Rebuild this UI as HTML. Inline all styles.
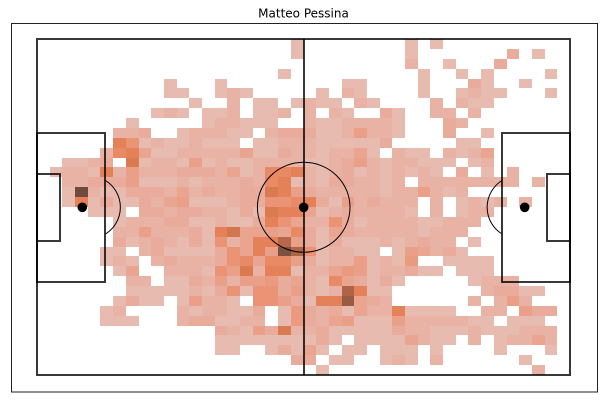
<!DOCTYPE html>
<html lang="en">
<head>
<meta charset="utf-8">
<title>Matteo Pessina</title>
<style>
html,body{margin:0;padding:0;background:#fff;width:603px;height:403px;overflow:hidden}
svg{display:block}
</style>
</head>
<body>
<svg id="chart" width="603" height="403" viewBox="0 0 603 403" xmlns="http://www.w3.org/2000/svg">
  <rect x="0" y="0" width="603" height="403" fill="#ffffff"/>
  <text x="303.5" y="17.3" text-anchor="middle" font-family="'DejaVu Sans',sans-serif" font-size="12" fill="#000">Matteo Pessina</text>
  <rect x="11.5" y="23.5" width="586" height="368.5" fill="none" stroke="#222" stroke-width="1"/>
  <g id="heat" shape-rendering="crispEdges"></g>
  <g fill="none" stroke="#000" stroke-opacity="0.78" stroke-width="2">
    <rect x="37" y="39" width="533" height="336"/>
    <line x1="304" y1="39" x2="304" y2="375"/>
    <rect x="37" y="133" width="68" height="149"/>
    <rect x="502" y="133" width="68" height="149"/>
    <rect x="37" y="174" width="23" height="67"/>
    <rect x="547" y="174" width="23" height="67"/>
  </g>
  <g fill="none" stroke="#000" stroke-width="1">
    <ellipse cx="303.7" cy="207.3" rx="46.3" ry="45"/>
    <path d="M105.5 180.5 A31.5 31.5 0 0 1 105.5 234"/>
    <path d="M502 180.5 A31.5 31.5 0 0 0 502 234"/>
  </g>
  <circle cx="303.7" cy="207.3" r="4.8" fill="#000"/>
  <circle cx="82.3" cy="207.3" r="4.8" fill="#000"/>
  <circle cx="524.7" cy="207.3" r="4.8" fill="#000"/>
</svg>
<script>
const touchRows = [
[0,0,0,0,0,0,0,0,0,0, 0,0,0,0,0,0,0,0,0,0, 1,0,0,0,0,0,0,0,0,1, 0,1,0,0,0,0,0,0,0,0,0,0],
[0,0,0,0,0,0,0,0,0,0, 0,0,0,0,0,0,0,0,0,0, 1,0,0,0,0,0,0,0,0,1, 0,0,0,0,0,0,0,2,0,1,0,0],
[0,0,0,0,0,0,0,0,0,0, 0,0,0,0,0,0,0,0,0,0, 0,0,0,0,0,0,0,0,0,1.5, 0,0,1,0,0,0,2,0,0,0,0,0],
[0,0,0,0,0,0,0,0,0,0, 0,0,0,0,0,0,0,0,0,1, 0,0,0,0,0,0,0,0,0,0, 1,0,0,1,0,1,0,0,0,0,1,0],
[0,0,0,0,0,0,0,0,0,0, 1,0,0,0,1,0,0,0,0,0, 0,0,0,0,1,1,0,0,0,0, 1,0,0,0,2,1,0,0,1,0,0,0],
[0,0,0,0,0,0,0,0,0,0, 1,1,0,0,1,1.5,1,0,0,0, 0,0,1,0,1.5,1,0,0,0,0, 1,0,0,1,1.5,1,1,0,0,0,1,0],
[0,0,0,0,0,0,0,0,0,0, 0,0,1,0,0,1.5,0,1,1,0, 1,1.5,1,1,0,1.5,1,0,0,0, 0,1.5,0,1.5,1,1,0,0,0,0,0,0],
[0,0,0,0,0,0,0,0,0,1, 1.5,1,0,1,1,1.5,0,1,1,1.5, 0,1.5,0,1.5,1,0,0,2,1,0, 0,1.5,1.5,0,1.5,0,0,0,0,0,0,0],
[0,0,0,0,0,0,0,1,0,0, 0,0,0,1,1.5,1.5,1,1,1,0, 0,1.5,1,1,1.5,1.5,1.5,1.5,1,0, 0,0,2,1.5,0,0,0,0,0,0,0,0],
[0,0,0,0,0,0,1.5,1.5,2,0, 0,1,1.5,1.5,1.5,1,1,0,1.5,2, 2,2,1,1,1.5,3,1.5,1.5,1,0, 0,0,2,0,0,1,0,0,0,0,0,0],
[0,0,0,0,0,0,6,4,1,1.5, 1,1,1.5,1,1,1,0,1,1,1.5, 1.5,1.5,1,1,1,1,1,2,0,0, 0,0,0,1,1,0,0,0,0,0,0,0],
[0,0,0,0,0,1.5,5,6,2.5,1, 1,1.5,1.5,1.5,1.5,1.5,2.5,1,1,2, 1.5,1.5,1,1.5,1.5,2.5,1,0,1.5,1, 1,0,1.5,1,1.5,2.5,0,0,0,0,0,0],
[0,0,1,1,1.5,2,0,7,1,1.5, 1.5,1,3,1,1.5,1,1,1.5,1.5,1.5, 1.5,1,1,1.5,2,3,1.5,1,1.5,1.5, 1,1,1,0,1,1.5,0,0,0,0,0,0],
[0,1,1.5,1.5,1,6,1.5,3,1.5,1.5, 1.5,2,2,2,1.5,2.5,1,1.5,5,5, 6,1.5,1,1.5,2,1,1.5,1,1.5,1, 1.5,1,0,2,0,1,0,1.5,0,0,0,0],
[0,0,1.5,1.5,2,2,2,3,1,1, 1,1.5,1,1.5,1.5,1.5,2,1.5,5,6, 1,1.5,1,2,2,1.5,1.5,1,1.5,0, 1.5,1.5,1.5,1.5,1.5,1.5,1.5,1.5,0,1.5,0,0],
[0,0,1,12,1.5,1,1,2,2,2, 1.5,2.5,1.5,2,1.5,1.5,2,2,7,6, 3,2,1.5,1.5,1.5,1.5,1.5,1,1.5,1.5, 3,1.5,1,1.5,0,0,0,0,0,0,0,0],
[0,0,1,6,1,2,1,1,2,1.5, 2.5,3,1,1,1,1.5,2,2,4,4, 5,6,2,1,3,1.5,2,1.5,1.5,1.5, 0,1.5,0,1,1.5,1,1.5,0,1.5,0,0,0],
[0,0,0,0,1,1,1,0,2,2, 1.5,2,2,1.5,1.5,1,2,1,7,6, 6,2.5,1,1.5,2,1.5,1.5,1.5,1.5,1, 0,1.5,0,1,1.5,1.5,0,0,0,0,0,0],
[0,0,0,0,0,0,1,1.5,1.5,1.5, 2,2,1,1,1.5,1,1,2,6,4, 2.5,1.5,1.5,4,2,1,1.5,1.5,1.5,1.5, 1,1,1.5,1.5,1.5,0,0,0,0,0,0,0],
[0,0,0,0,0,0,1.5,1.5,3,1.5, 1.5,1.5,2,1,6,7.5,2.5,2.5,3,2.5, 5,2,1,2.5,2,1.5,1.5,1.5,1.5,1.5, 1,1.5,1.5,1.5,0,0,0,0,0,0,0,0],
[0,0,0,0,0,0,2,1,1.5,2, 1.5,1,2,1,4,1.5,2.5,6,6,9, 3,2,1,2,1,1,1,1.5,1,1.5, 2,1.5,1.5,0,1,0,0,0,0,0,0,0],
[0,0,0,0,0,1,1,0,1.5,2, 1,1,1,1,2,4,2.5,6,3,11.5, 9.5,4,1,1.5,1.5,1,1,0,1,3, 2.5,1.5,2,1,0,0,0,0,0,0,0,0],
[0,0,0,0,0,1,1.5,1,0,1.5, 2,1.5,1.5,1.5,2,4,5,2.5,5,5, 3,2,1,1.5,1.5,3,1,1.5,1,3.5, 0,0,1,1,1,1,0,0,0,0,0,0],
[0,0,0,0,0,0,1,2.5,0,0, 1.5,1.5,1.5,1,4,3,7,1.5,6,6, 1,1.5,1.5,2.5,3.5,3,1,1.5,1.5,2, 1,1,0,1,1,1,0,0,0,0,0,0],
[0,0,0,0,0,0,0,1.5,1.5,0, 1,1,2,1.5,3,1.5,3,3,3.5,2, 2.5,1.5,1,5,2.5,2,1,2,1,0, 0,0,0,0,1,1.5,1.5,1.5,0,0,0,0],
[0,0,0,0,0,0,0,1,1,1, 1,1,1.5,1,2,4,1,4,4,2, 3,1.5,1,1.5,9.5,6,1,1,0,0, 0,0,0,0,0,1.5,2,2,1,1,0,0],
[0,0,0,0,0,0,1,2,1,1, 0,1,3,1.5,1.5,1,0,4,4,3, 2,1,6,6,10.5,2.5,2,1.5,0,0, 0,0,0,0,1.5,0,1.5,3,1.5,0,0,0],
[0,0,0,0,0,1,1.5,0,0,0, 0,1.5,1,1.5,1.5,1,1,2,0,1, 3.5,2,1.5,2,1,2.5,1.5,1.5,6,1, 1,1,1,0,0,1.5,1.5,0,3,2,2,0],
[0,0,0,0,0,1,1,1,0,0, 0,1.5,2,2,1,1,1.5,1.5,0,1, 3.5,2,1.5,2.5,3,1,1,1,3,1.5, 1.5,1.5,1.5,1.5,1,1,0,1,1,1,0,0],
[0,0,0,0,0,0,0,0,0,0, 0,0,0,0,2,1.5,1,3,2,7, 1.5,1.5,2,1,1,1,1,1,2,1.5, 1.5,1,1,1,1.5,1,1,1,1.5,1.5,1.5,0],
[0,0,0,0,0,0,0,0,0,0, 0,0,0,0,1,1,1,1,1,1, 1,1,2,1,0,1,1,1,1,2.5, 1.5,1,1,0,1.5,0,1,1.5,1.5,2.5,1.5,0],
[0,0,0,0,0,0,0,0,0,0, 0,0,0,0,1,1,0,0,1,2, 1,2.5,1,0,1,1,0,1,1,1, 0,1,0,0,0,0,1,0,0,0,1,0],
[0,0,0,0,0,0,0,0,0,0, 0,0,0,0,0,0,0,0,0,0, 2,2,0,1,1,0,0,1,1.5,1, 0,1.5,0,0,0,0,0,0,1,0,0,0],
[0,0,0,0,0,0,0,0,0,0, 0,0,0,0,0,0,0,0,0,0, 0,0,1,0,0,0,0,0,0,0, 0,0,0,0,0,0,0,0,0,1.5,0,0]
];
const colorLevels = [1,1.5,2,2.5,3,3.5,4,5,6,7,8,9,10,11,12];
const colorRamp = ["#e7bbb0","#e8b3a5","#e9ac9c","#eaa591","#ea9f88","#ea9a7f","#ea9475","#e98a66","#e58159","#d97a50","#c8714f","#b8684a","#a66044","#8a5542","#6f4a3e"];

function xScale(col){ return 37 + col * 533 / touchRows[0].length; }
function yScale(row){ return 39 + row * 336 / touchRows.length; }
function hexToRgb(h){ return [1,3,5].map(function(i){ return parseInt(h.substr(i,2),16); }); }
function colorFor(v){
  if (v <= colorLevels[0]) return colorRamp[0];
  for (let i = 1; i < colorLevels.length; i++) {
    if (v <= colorLevels[i]) {
      const t = (v - colorLevels[i-1]) / (colorLevels[i] - colorLevels[i-1]);
      const a = hexToRgb(colorRamp[i-1]), b = hexToRgb(colorRamp[i]);
      return "rgb(" + a.map(function(c,k){ return Math.round(c + (b[k]-c)*t); }).join(",") + ")";
    }
  }
  return colorRamp[colorRamp.length-1];
}
const heatGroup = document.getElementById("heat");
touchRows.forEach(function(values, r){
  values.forEach(function(v, c){
    if (!v) return;
    const el = document.createElementNS("http://www.w3.org/2000/svg", "rect");
    
    
    el.setAttribute("x", Math.round(xScale(c)));
    el.setAttribute("y", Math.round(yScale(r)));
    el.setAttribute("width", Math.round(xScale(c+1)) - Math.round(xScale(c)));
    el.setAttribute("height", Math.round(yScale(r+1)) - Math.round(yScale(r)));
    el.setAttribute("fill", colorFor(v));
    heatGroup.appendChild(el);
  });
});
</script>
</body>
</html>
